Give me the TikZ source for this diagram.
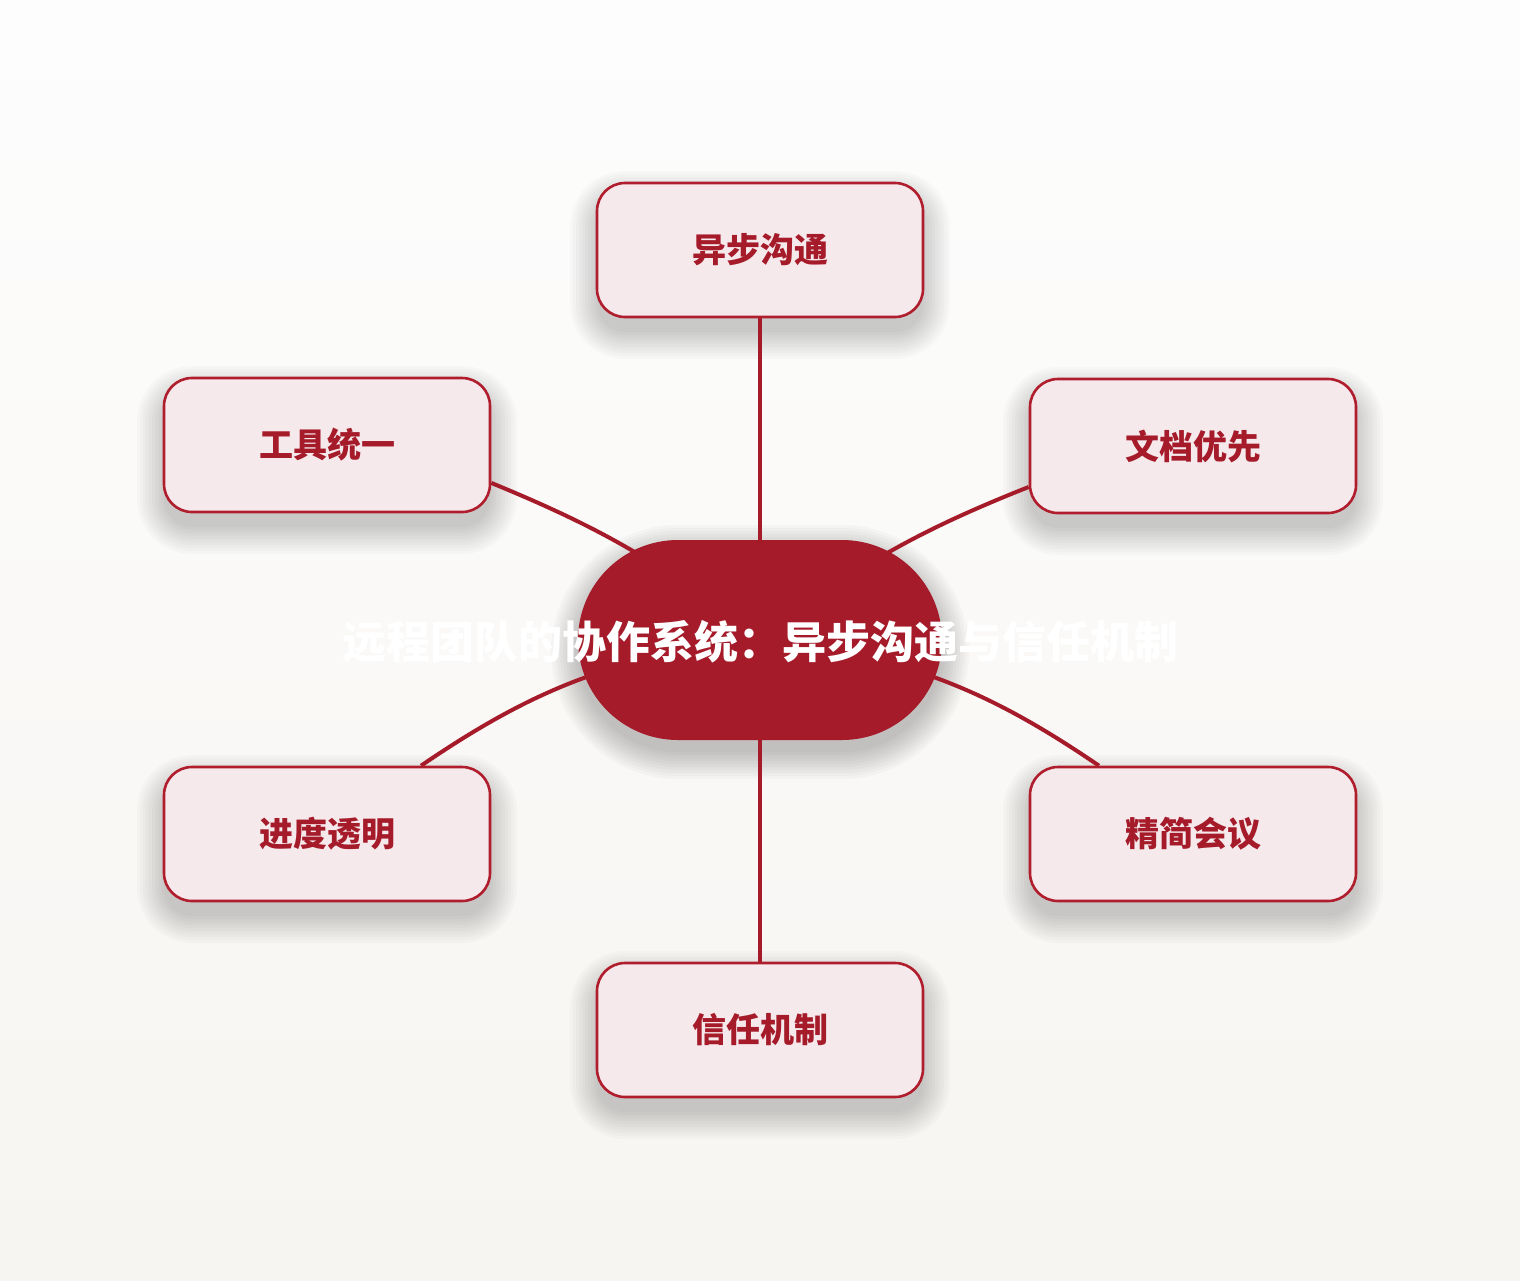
\documentclass[tikz,border=0pt]{standalone}
\usepackage{fontspec}
\newfontfamily\cjk{Noto Sans CJK SC}
\definecolor{hubred}{RGB}{165,27,42}
\definecolor{edgered}{RGB}{176,30,46}
\definecolor{leafpink}{RGB}{245,233,236}
\definecolor{bgtop}{RGB}{253,253,253}
\definecolor{bgbottom}{RGB}{247,245,241}
\pgfdeclarelayer{bg}
\pgfdeclarelayer{edges}
\pgfsetlayers{bg,edges,main}
\tikzset{every picture/.style={line width=0.75pt}}
\tikzset{
  leaf/.style={draw=edgered, fill=leafpink, line width=1.3pt, rounded corners=14pt,
    minimum width=163pt, minimum height=67pt, inner sep=0pt,
    font=\cjk\bfseries\fontsize{17pt}{20pt}\selectfont, text=hubred},
  hub/.style={fill=hubred, rounded corners=50pt, minimum width=182pt, minimum height=100pt, inner sep=0pt},
  spoke/.style={draw=hubred, line width=2pt},
  haze/.style={fill=black, opacity=0.018}
}
\begin{document}
\begin{tikzpicture}[x=0.5pt,y=0.5pt,yscale=-1,xscale=1]
	%background
	\begin{pgfonlayer}{bg}
	\foreach \i in {0,...,31} {
		\pgfmathsetmacro\p{100*\i/31}
		\fill [bgbottom!\p!bgtop] (0,\i*40) rectangle (1520,\i*40+41);
	}
	% soft shadows
	\foreach \k in {0,...,9} {
		\pgfmathsetmacro\r{50+1.5*\k}
		\fill [haze, opacity=0.022, rounded corners=\r pt] (578-3*\k,552-3*\k) rectangle (942+3*\k,752+3*\k);
	}
	\foreach \cx/\cy in {760/250, 327/445, 1193/446, 327/834, 1193/834, 760/1030} {
		\foreach \k in {0,...,9} {
			\pgfmathsetmacro\r{14+1.5*\k}
			\fill [haze, rounded corners=\r pt] (\cx-163-3*\k,\cy-52-3*\k) rectangle (\cx+163+3*\k,\cy+82+3*\k);
		}
	}
	\end{pgfonlayer}
	\useasboundingbox (0,0) rectangle (1520,1280);

	% Hub
	\node [hub] (c) at (760,640) {};
	\node [font=\cjk\bfseries\fontsize{22pt}{25pt}\selectfont, text=white] (title) at (760,642) {远程团队的协作系统：异步沟通与信任机制};

	% Leaves
	\node [leaf] (top) at (760,250) {异步沟通};
	\node [leaf] (ul) at (327,445) {工具统一};
	\node [leaf] (ur) at (1193,446) {文档优先};
	\node [leaf] (ll) at (327,834) {进度透明};
	\node [leaf] (lr) at (1193,834) {精简会议};
	\node [leaf] (bot) at (760,1030) {信任机制};

	% Spokes
	\begin{pgfonlayer}{edges}
	\draw [spoke] (c.center) -- (top);
	\draw [spoke] (c.center) -- (bot);
	\draw [spoke] (c.center) to[bend left=8] (ul.-13);
	\draw [spoke] (c.center) to[bend right=8] (ur.194);
	\draw [spoke] (c.center) to[bend left=14] (ll.36);
	\draw [spoke] (c.center) to[bend right=14] (lr.144);
	\end{pgfonlayer}

\end{tikzpicture}
\end{document}
